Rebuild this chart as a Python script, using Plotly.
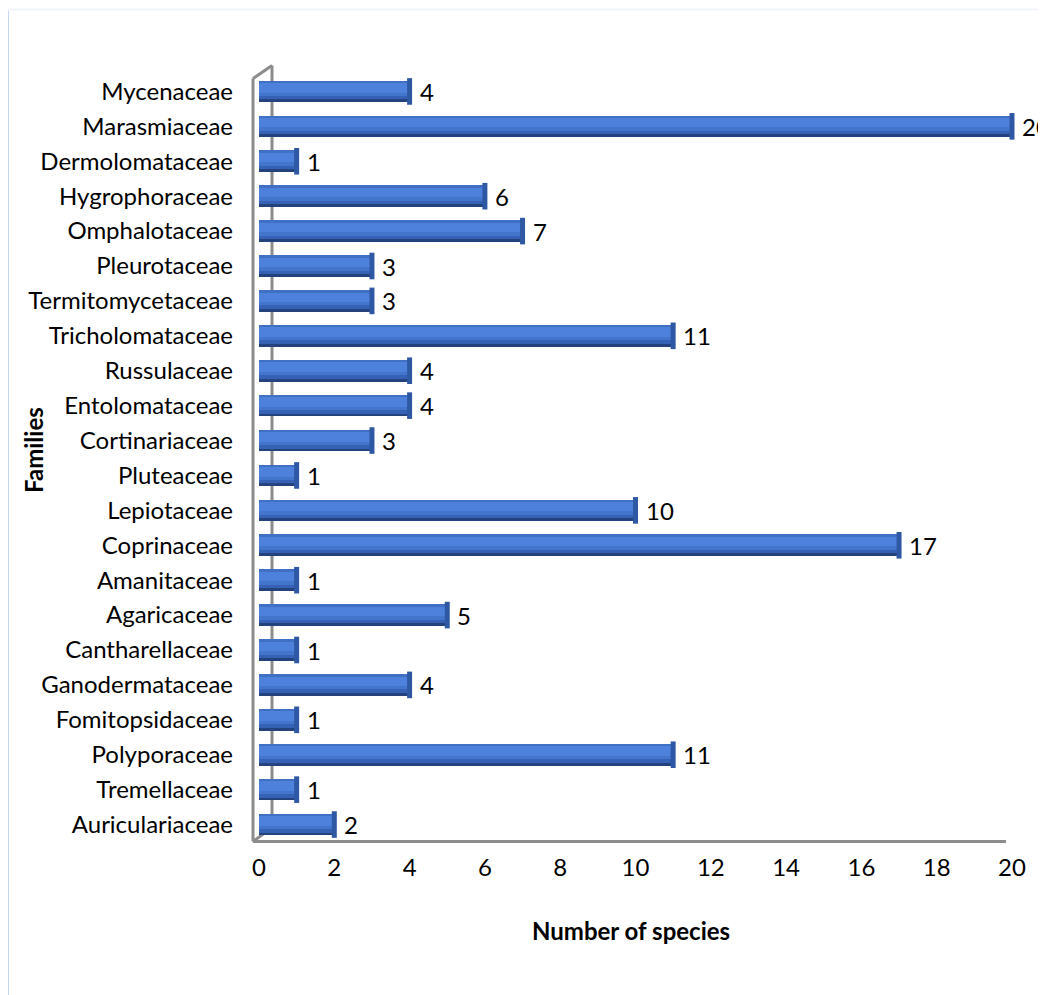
import plotly.graph_objects as go

families = ["Auriculariaceae", "Tremellaceae", "Polyporaceae", "Fomitopsidaceae",
            "Ganodermataceae", "Cantharellaceae", "Agaricaceae", "Amanitaceae",
            "Coprinaceae", "Lepiotaceae", "Pluteaceae", "Cortinariaceae",
            "Entolomataceae", "Russulaceae", "Tricholomataceae", "Termitomycetaceae",
            "Pleurotaceae", "Omphalotaceae", "Hygrophoraceae", "Dermolomataceae",
            "Marasmiaceae", "Mycenaceae"]
species = [2, 1, 11, 1, 4, 1, 5, 1, 17, 10, 1, 3, 4, 4, 11, 3, 3, 7, 6, 1, 20, 4]
x_ticks = [0, 2, 4, 6, 8, 10, 12, 14, 16, 18, 20]

FONT = "Lato"
FS = 24
OFF = 8  # page body margin
W, H = 1046, 995
# page-pixel positions of plot area
PL, PR, PT, PB = 259, 1012, 73.5, 842.5
L, R, T, B = PL - OFF, PR - OFF, PT - OFF, PB - OFF

fig = go.Figure()

layers = [
    (-0.31, 0.62, "#23427e"),
    (-0.23, 0.52, "#3562b4"),
    (-0.13, 0.42, "#4475cc"),
    (-0.03, 0.27, "#4e81db"),
    (0.24, 0.07, "#4070c3"),
]
for off, wid, col in layers:
    fig.add_trace(go.Bar(
        x=species, y=families, orientation="h",
        offset=off, width=wid,
        marker=dict(color=col, line=dict(width=0)),
        hoverinfo="skip", showlegend=False,
    ))

fig.add_trace(go.Scatter(
    x=species, y=families, mode="markers",
    marker=dict(symbol="line-ns", size=19, line=dict(width=5, color="#2e58a3")),
    hoverinfo="skip", showlegend=False, cliponaxis=False,
))

for f, v in zip(families, species):
    fig.add_annotation(x=v, y=f, text=str(v), showarrow=False,
                       xanchor="left", yanchor="middle", xshift=8, yshift=0,
                       font=dict(family=FONT, size=FS, color="#000000"))

def px_x(p):
    return (p - PL) / (PR - PL)

def px_y(p):
    return (PB - p) / (PB - PT)

grey = "#8c8c8c"
shapes = [
    dict(type="line", x0=px_x(272), x1=px_x(272), y0=px_y(65), y1=px_y(828),
         line=dict(color=grey, width=3), layer="below"),
    dict(type="line", x0=px_x(253), x1=px_x(272), y0=px_y(78), y1=px_y(65),
         line=dict(color=grey, width=3)),
    dict(type="line", x0=px_x(253), x1=px_x(272), y0=px_y(842), y1=px_y(828),
         line=dict(color=grey, width=3), layer="below"),
    dict(type="line", x0=px_x(253), x1=px_x(253), y0=px_y(78), y1=px_y(842),
         line=dict(color=grey, width=3)),
    dict(type="line", x0=px_x(253), x1=px_x(1006), y0=px_y(842), y1=px_y(842),
         line=dict(color=grey, width=3)),
    dict(type="line", x0=px_x(7.5), x1=px_x(7.5), y0=px_y(10), y1=px_y(1010),
         line=dict(color="#c6d6ef", width=3)),
    dict(type="line", x0=px_x(7), x1=px_x(1060), y0=px_y(9), y1=px_y(9),
         line=dict(color="#f1f4f9", width=2)),
]
for s in shapes:
    s["xref"] = "paper"
    s["yref"] = "paper"
fig.update_layout(shapes=shapes)

fig.add_annotation(x=px_x(631), y=px_y(931), xref="paper", yref="paper",
                   xanchor="center", yanchor="middle",
                   text="<b>Number of species</b>", showarrow=False,
                   font=dict(family=FONT, size=FS, color="#000000"))
fig.add_annotation(x=px_x(33), y=px_y(450), xref="paper", yref="paper",
                   xanchor="center", yanchor="middle",
                   text="<b>Families</b>", showarrow=False, textangle=-90,
                   font=dict(family=FONT, size=FS, color="#000000"))

fig.update_layout(
    width=W, height=H,
    margin=dict(l=L, r=W - R, t=T, b=H - B),
    paper_bgcolor="white", plot_bgcolor="white",
    barmode="overlay", bargap=0,
    font=dict(family=FONT, size=FS, color="#000000"),
    xaxis=dict(range=[0, 20], tickvals=x_ticks, showgrid=False, zeroline=False,
               showline=False, ticks="", ticklabelstandoff=9,
               tickfont=dict(family=FONT, size=FS)),
    yaxis=dict(type="category", categoryorder="array", categoryarray=families,
               range=[-0.5, len(families) - 0.5], showgrid=False, zeroline=False,
               showline=False, ticks="", ticklabelstandoff=25,
               tickfont=dict(family=FONT, size=FS)),
)

fig.write_html("out.html")
